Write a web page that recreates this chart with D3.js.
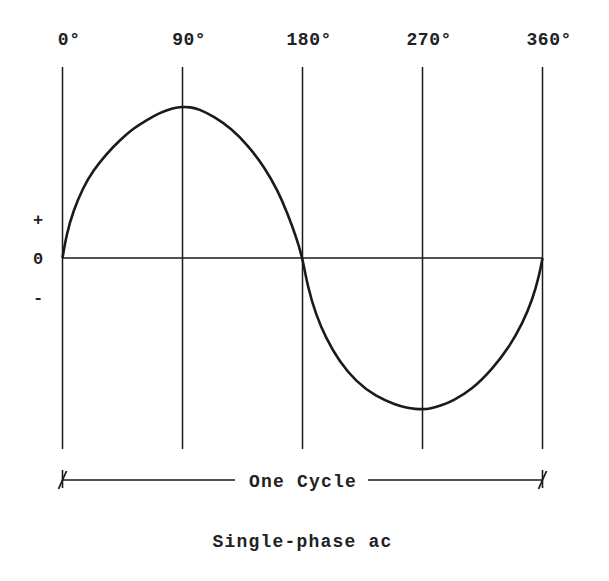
<!DOCTYPE html>
<html><head><meta charset="utf-8">
<script src="https://cdn.jsdelivr.net/npm/d3@7"></script>
<style>html,body{margin:0;padding:0;background:#fff;}</style>
</head><body>
<script>
const degreeTicks = [0, 90, 180, 270, 360];
const tickLabels = ["0°", "90°", "180°", "270°", "360°"];
const polarityLabels = ["+", "0", "-"];
const polarityValues = [0.26, 0, -0.26];
const angles  = [0, 3, 8, 15.5, 23, 33, 43, 53, 63, 73, 83, 90, 96,
                 102, 114, 126.5, 139, 151.5, 161.5, 169, 175.5, 180,
                 184, 190, 197.5, 207.5, 220, 235, 250, 258, 265, 270,
                 276, 284, 292.5, 307.5, 322.5, 335, 345, 352.5, 357.5, 360];
const voltage = [0, 0.156, 0.31, 0.467, 0.578, 0.689, 0.778, 0.856, 0.911, 0.96, 0.992, 1, 0.997,
                 0.986, 0.933, 0.856, 0.745, 0.60, 0.445, 0.289, 0.133, 0,
                 -0.195, -0.373, -0.528, -0.683, -0.816, -0.916, -0.97, -0.99, -0.998, -1,
                 -0.995, -0.975, -0.946, -0.867, -0.733, -0.589, -0.433, -0.274, -0.118, 0];
const cycleLabel = "One Cycle";
const title = "Single-phase ac";

const W = 609, H = 581;
const svg = d3.select("body").append("svg").attr("width", W).attr("height", H);
const x = d3.scaleLinear().domain([0, 360]).range([62.5, 542.5]);
const y = d3.scaleLinear().domain([-1, 1]).range([409.3, 106.7]);
const font = "'Liberation Mono', 'DejaVu Sans Mono', monospace";
const ink = "#1a1a1a";
const txt = "#222";

// vertical lines
svg.selectAll("line.v").data(degreeTicks).join("line")
  .attr("x1", d => x(d)).attr("x2", d => x(d))
  .attr("y1", 67).attr("y2", 449)
  .attr("stroke", ink).attr("stroke-width", 1.5);

// zero line
svg.append("line").attr("x1", x(0)).attr("x2", x(360))
  .attr("y1", y(0)).attr("y2", y(0)).attr("stroke", ink).attr("stroke-width", 1.3);

// degree labels: numeric part centred on its line, degree sign trailing
svg.selectAll("text.deg").data(degreeTicks).join("text")
  .attr("class", "deg")
  .attr("y", 45)
  .attr("text-anchor", "start")
  .attr("font-family", font).attr("font-size", 18).attr("font-weight", "bold")
  .attr("letter-spacing", 0.5)
  .attr("fill", txt)
  .text((d, i) => tickLabels[i])
  .each(function(d, i) {
    const n = tickLabels[i].length - 1;
    const w = this.getSubStringLength(0, n);
    d3.select(this).attr("x", x(d) - w / 2 + 1);
  });

// polarity labels
svg.selectAll("text.pol").data(polarityValues).join("text")
  .attr("x", 38).attr("y", d => y(d) + 6)
  .attr("text-anchor", "middle")
  .attr("font-family", font).attr("font-size", 17).attr("font-weight", "bold")
  .attr("fill", txt)
  .text((d, i) => polarityLabels[i]);

// waveform
const line = d3.line().x((d, i) => x(angles[i])).y(d => y(d)).curve(d3.curveBasis);
svg.append("path").attr("d", line(voltage))
  .attr("fill", "none").attr("stroke", ink).attr("stroke-width", 2.6);

// one cycle bracket
const by = 480;
svg.append("line").attr("x1", x(0)).attr("x2", 235).attr("y1", by).attr("y2", by)
  .attr("stroke", ink).attr("stroke-width", 1.4);
svg.append("line").attr("x1", 368).attr("x2", x(360)).attr("y1", by).attr("y2", by)
  .attr("stroke", ink).attr("stroke-width", 1.4);
[0, 360].forEach(d => {
  const cx = x(d);
  svg.append("line").attr("x1", cx).attr("x2", cx).attr("y1", by - 10).attr("y2", by + 8)
    .attr("stroke", ink).attr("stroke-width", 1.6);
  svg.append("line").attr("x1", cx - 4).attr("x2", cx + 4).attr("y1", by + 9).attr("y2", by - 9)
    .attr("stroke", ink).attr("stroke-width", 1.8);
});
svg.append("text").attr("x", x(180) + 0.5).attr("y", by + 7)
  .attr("text-anchor", "middle")
  .attr("font-family", font).attr("font-size", 18).attr("font-weight", "bold")
  .attr("letter-spacing", 1.2)
  .attr("fill", txt).text(cycleLabel);

// title
svg.append("text").attr("x", 302.5).attr("y", 547)
  .attr("text-anchor", "middle")
  .attr("font-family", font).attr("font-size", 18).attr("font-weight", "bold")
  .attr("letter-spacing", 1.2)
  .attr("fill", txt).text(title);
</script>
</body></html>
